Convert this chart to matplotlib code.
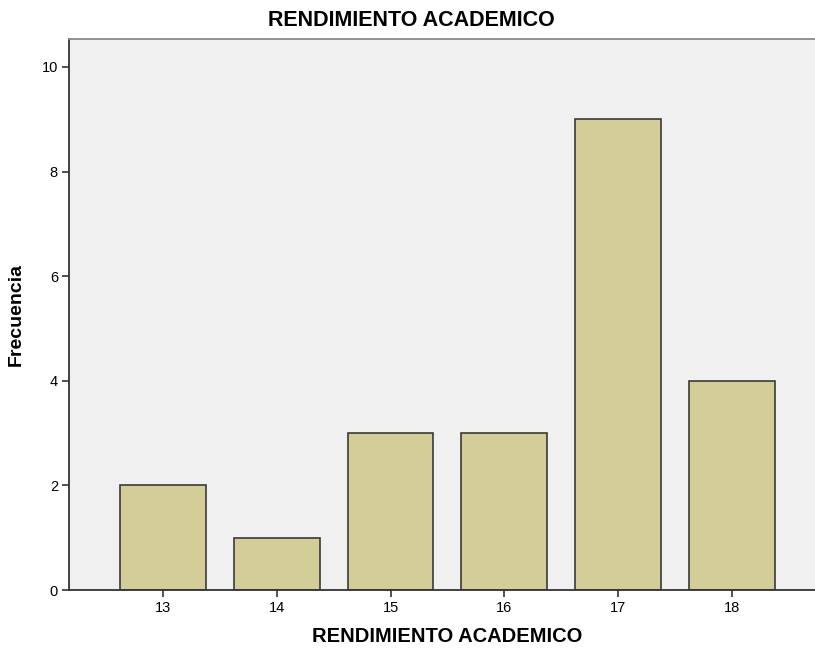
import matplotlib
matplotlib.use("Agg")
import matplotlib.pyplot as plt

# Frequency of academic performance scores
scores = [13, 14, 15, 16, 17, 18]
counts = [2, 1, 3, 3, 9, 4]
y_ticks = [0, 2, 4, 6, 8, 10]

plt.rcParams["font.family"] = ["Liberation Sans", "DejaVu Sans"]

fig = plt.figure(figsize=(8.15, 6.51), dpi=100)
ax = fig.add_axes([69 / 815, 61 / 651, 1 - 69 / 815, 551 / 651])
ax.set_facecolor("#F0F0F0")

ax.bar(scores, counts, width=0.755, color="#D3CE97", edgecolor="#3a3a3a", linewidth=1.2, zorder=2)

ax.set_xlim(12.175, 18.73)
ax.set_ylim(0, 10.535)
ax.set_xticks(scores)
ax.set_yticks(y_ticks)
ax.tick_params(axis="both", direction="out", length=5, width=1.2, color="#333333", labelsize=10.5, pad=3)

for side in ("left", "bottom"):
    ax.spines[side].set_color("#333333")
    ax.spines[side].set_linewidth(1.3)
ax.spines["top"].set_color("#8a8a8a")
ax.spines["top"].set_linewidth(1.3)
ax.spines["right"].set_visible(False)

fig.text(411.5 / 815, 1 - 21 / 651, "RENDIMIENTO ACADEMICO", fontsize=15.5, fontweight="bold",
         ha="center", va="center")
ax.set_xlabel("RENDIMIENTO ACADEMICO", fontsize=14.5, fontweight="bold", labelpad=10)
ax.xaxis.set_label_coords(0.507, -0.068)
ax.set_ylabel("Frecuencia", fontsize=14, fontweight="bold", labelpad=12)

fig.savefig("out.png", dpi=100)
